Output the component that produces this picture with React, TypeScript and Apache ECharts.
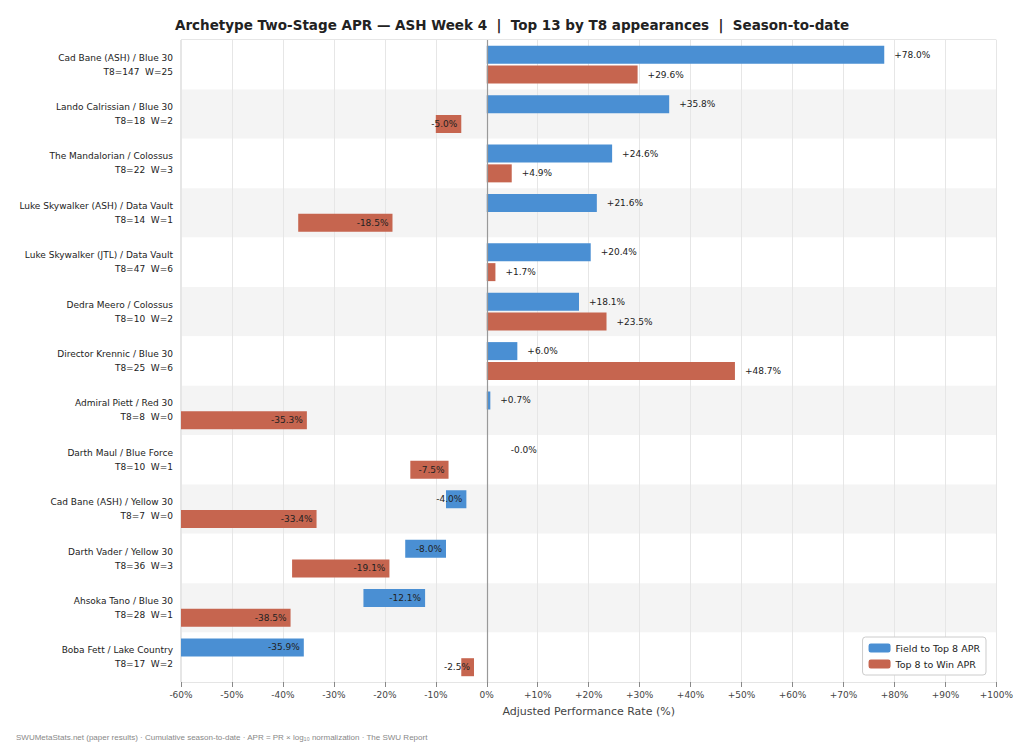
import React, { useEffect, useRef } from "react";
import * as echarts from "echarts";

const categories = [
  "Cad Bane (ASH) / Blue 30", "Lando Calrissian / Blue 30", "The Mandalorian / Colossus",
  "Luke Skywalker (ASH) / Data Vault", "Luke Skywalker (JTL) / Data Vault", "Dedra Meero / Colossus",
  "Director Krennic / Blue 30", "Admiral Piett / Red 30", "Darth Maul / Blue Force",
  "Cad Bane (ASH) / Yellow 30", "Darth Vader / Yellow 30", "Ahsoka Tano / Blue 30", "Boba Fett / Lake Country",
];
const meta = ["T8=147  W=25", "T8=18  W=2", "T8=22  W=3", "T8=14  W=1", "T8=47  W=6", "T8=10  W=2",
  "T8=25  W=6", "T8=8  W=0", "T8=10  W=1", "T8=7  W=0", "T8=36  W=3", "T8=28  W=1", "T8=17  W=2"];
const fieldToTop8 = [78.0, 35.8, 24.6, 21.6, 20.4, 18.1, 6.0, 0.7, -0.0, -4.0, -8.0, -12.1, -35.9];
const top8ToWin = [29.6, -5.0, 4.9, -18.5, 1.7, 23.5, 48.7, -35.3, -7.5, -33.4, -19.1, -38.5, -2.5];

const BLUE = "#4a8fd3";
const RED = "#c6654f";

function fmt(v: number) {
  if (v > 0) return "+" + v.toFixed(1) + "%";
  if (v === 0) return "-0.0%";
  return v.toFixed(1) + "%";
}

function makeSeries(name: string, vals: number[], color: string, stack: string) {
  const base = {
    type: "bar", stack, barWidth: 18, silent: true,
    itemStyle: { color: "transparent" },
    data: vals.map((v) => (v < 0 ? v : 0)),
  };
  const vis = {
    name, type: "bar", stack, barWidth: 18,
    itemStyle: { color },
    data: vals.map((v) => ({
      value: v,
      label: {
        show: true,
        position: v < 0 ? "insideRight" : "right",
        distance: v < 0 ? 4 : 10,
        offset: v === 0 ? [14, 0] : [0, 0],
        formatter: () => fmt(v),
        fontSize: 9, color: "#222",
      },
    })),
  };
  return [base, vis];
}

export default function App() {
  const ref = useRef<HTMLDivElement>(null);
  useEffect(() => {
    const chart = echarts.init(ref.current!, undefined, { renderer: "svg" });
    chart.setOption({
      animation: false,
      backgroundColor: "#fff",
      textStyle: { fontFamily: "DejaVu Sans" },
      title: {
        text: "Archetype Two-Stage APR — ASH Week 4  |  Top 13 by T8 appearances  |  Season-to-date",
        left: "center", top: 5,
        textStyle: { fontSize: 13.5, fontWeight: "bold", color: "#222" },
      },
      graphic: [{
        type: "text", left: 8, bottom: 6,
        style: { text: "SWUMetaStats.net (paper results) · Cumulative season-to-date · APR = PR × log₁₀ normalization · The SWU Report", fontSize: 8, fill: "#888" },
      }],
      legend: {
        data: ["Field to Top 8 APR", "Top 8 to Win APR"],
        orient: "vertical", right: 30, bottom: 72,
        itemWidth: 22, itemHeight: 9, itemGap: 6,
        backgroundColor: "#fff", borderColor: "#ccc", borderWidth: 1, borderRadius: 3, padding: [6, 6],
        textStyle: { fontSize: 9.5, color: "#222" },
      },
      grid: { left: 173, right: 16, top: 32, bottom: 65, show: true, borderColor: "#ccc", borderWidth: 1 },
      xAxis: {
        type: "value", min: -60, max: 100, interval: 10,
        name: "Adjusted Performance Rate (%)", nameLocation: "middle", nameGap: 24,
        nameTextStyle: { fontSize: 11, color: "#444" },
        axisLabel: { fontSize: 9, color: "#444", formatter: (v: number) => (v > 0 ? "+" + v + "%" : v + "%") },
        axisLine: { show: false },
        axisTick: { show: true, lineStyle: { color: "#888" } },
        splitLine: { lineStyle: { color: "#e6e6e6" } },
      },
      yAxis: {
        type: "category", data: categories, inverse: true,
        axisLabel: {
          fontSize: 9, color: "#222", align: "right", lineHeight: 14,
          formatter: (v: string, i: number) => v + "\n" + meta[i],
        },
        axisTick: { show: false },
        axisLine: { show: false },
        splitArea: { show: true, areaStyle: { color: ["#ffffff", "#f4f4f4"] } },
      },
      series: [
        ...makeSeries("Field to Top 8 APR", fieldToTop8, BLUE, "b"),
        ...makeSeries("Top 8 to Win APR", top8ToWin, RED, "r"),
        {
          type: "line", data: [], silent: true,
          markLine: { symbol: "none", silent: true, label: { show: false }, lineStyle: { color: "#999", type: "solid", width: 1.2 }, data: [{ xAxis: 0 }] },
        },
      ],
    } as any);
    return () => chart.dispose();
  }, []);
  return <div ref={ref} style={{ width: 1008, height: 739 }} />;
}
